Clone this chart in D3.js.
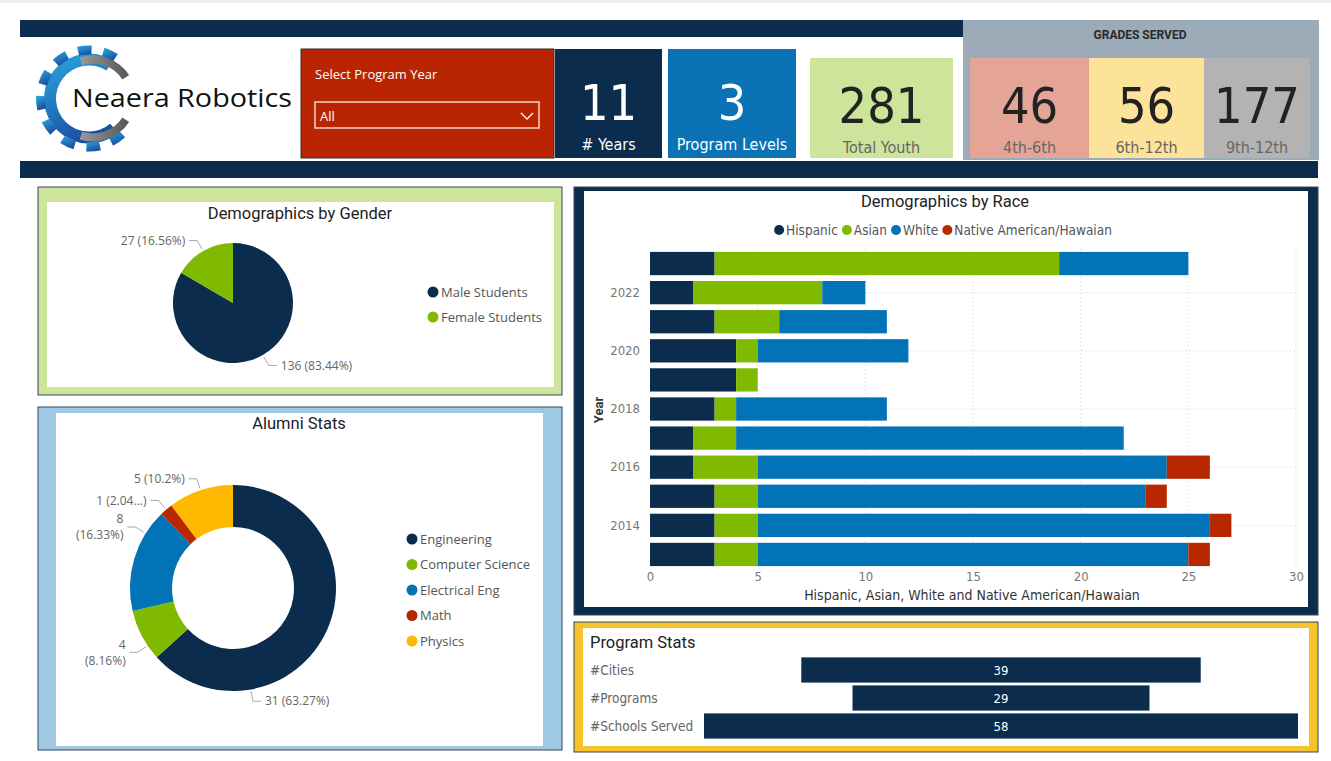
<!DOCTYPE html>
<html>
<head>
<meta charset="utf-8">
<script src="https://cdn.jsdelivr.net/npm/d3@7"></script>
<style>
  body { margin: 0; background: #fff; }
  svg { display: block; }
</style>
</head>
<body>
<svg width="1331" height="761"></svg>
<script>
// ---- data ----
var kpiYears = 11;
var kpiLevels = 3;
var kpiYouth = 281;
var gradeNames = ["4th-6th", "6th-12th", "9th-12th"];
var gradeValues = [46, 56, 177];

var genderNames = ["Male Students", "Female Students"];
var genderValues = [136, 27];
var genderLabels = [["136 (83.44%)"], ["27 (16.56%)"]];

var alumniNames = ["Engineering", "Computer Science", "Electrical Eng", "Math", "Physics"];
var alumniValues = [31, 4, 8, 1, 5];
var alumniLabels = [["31 (63.27%)"], ["4", "(8.16%)"], ["8", "(16.33%)"], ["1 (2.04...)"], ["5 (10.2%)"]];

var raceKeys = ["Hispanic", "Asian", "White", "Native American/Hawaian"];
var raceYears = [2023, 2022, 2021, 2020, 2019, 2018, 2017, 2016, 2015, 2014, 2013];
var hispanic = [3, 2, 3, 4, 4, 3, 2, 2, 3, 3, 3];
var asian = [16, 6, 3, 1, 1, 1, 2, 3, 2, 2, 2];
var white = [6, 2, 5, 7, 0, 7, 18, 19, 18, 21, 20];
var nativeAm = [0, 0, 0, 0, 0, 0, 0, 2, 1, 1, 1];
var yearTicks = [2022, 2020, 2018, 2016, 2014];
var xTicks = [0, 5, 10, 15, 20, 25, 30];

var statNames = ["#Cities", "#Programs", "#Schools Served"];
var statValues = [39, 29, 58];

// ---- look ----
var navy = "#0b2c4d", green = "#7fba00", blue = "#0273b6", red = "#b72800", gold = "#ffb900";
var cond = "'DejaVu Sans Condensed',sans-serif";
var segoe = "'Segoe UI','Open Sans',sans-serif";
var din = "Roboto,sans-serif";

var svg = d3.select("svg");
var rad = Math.PI / 180;

function box(x, y, w, h, fill, stroke) {
  return svg.append("rect").attr("x", x).attr("y", y).attr("width", w).attr("height", h)
    .attr("fill", fill).attr("stroke", stroke || "none");
}
function label(x, y, txt, size, fill, font, anchor, weight) {
  return svg.append("text").attr("x", x).attr("y", y).text(txt)
    .attr("font-size", size).attr("fill", fill).attr("font-family", font)
    .attr("text-anchor", anchor || "start").attr("font-weight", weight || 400);
}

box(0, 0, 1331, 761, "#fff");
box(0, 0, 1331, 3, "#efefef");

// header bands
box(20, 20, 943, 17, navy);
box(963, 20, 356, 140, "#9babb8");
box(20, 161, 1298, 17, navy);

// logo: blue gear open on the right, grey crescent inside
var defs = svg.append("defs");
var grad = defs.append("linearGradient").attr("id", "gearGrad")
  .attr("x1", 0).attr("y1", 0).attr("x2", 0.4).attr("y2", 1);
grad.append("stop").attr("offset", "0%").attr("stop-color", "#29abe2");
grad.append("stop").attr("offset", "100%").attr("stop-color", "#1c4fa1");
var ggrad = defs.append("linearGradient").attr("id", "greyGrad")
  .attr("x1", 0).attr("y1", 0).attr("x2", 1).attr("y2", 0);
ggrad.append("stop").attr("offset", "0%").attr("stop-color", "#9a9a9a");
ggrad.append("stop").attr("offset", "100%").attr("stop-color", "#555");

var gear = svg.append("g").attr("transform", "translate(89,98.5)");
var arc = d3.arc();
gear.append("path").attr("fill", "url(#gearGrad)")
  .attr("d", arc({ innerRadius: 33, outerRadius: 45, startAngle: 140 * rad, endAngle: 392 * rad }));
d3.range(145, 390, 30).forEach(function (a) {
  gear.append("path").attr("fill", "url(#gearGrad)")
    .attr("d", arc({ innerRadius: 44, outerRadius: 53, startAngle: (a - 8) * rad, endAngle: (a + 8) * rad }));
});
var cgrey = svg.append("g").attr("transform", "translate(93,98.5)");
cgrey.append("path").attr("fill", "url(#greyGrad)")
  .attr("d", arc({ innerRadius: 35, outerRadius: 43, startAngle: -18 * rad, endAngle: 57 * rad }));
cgrey.append("path").attr("fill", "url(#greyGrad)")
  .attr("d", arc({ innerRadius: 35, outerRadius: 43, startAngle: 123 * rad, endAngle: 198 * rad }));
label(72, 107, "Neaera Robotics", 26, "#111", segoe)
  .attr("textLength", 220).attr("lengthAdjust", "spacingAndGlyphs");

// program year slicer
box(301, 49, 253, 109, "#b92500", "#3a2a2a");
label(315, 79, "Select Program Year", 13, "#fff", segoe);
box(315, 102, 224, 26, "none", "#f3d2ca").attr("stroke-width", 1.5);
label(320, 121, "All", 13, "#fff", segoe);
svg.append("polyline").attr("points", "521,113 527,119 533,113")
  .attr("fill", "none").attr("stroke", "#fff").attr("stroke-width", 1.3);

// kpi cards
function kpi(x, y, w, h, fill, value, name, vcol, ncol, vBase, nBase) {
  box(x, y, w, h, fill);
  label(x + w / 2, vBase, value, 50, vcol, cond, "middle");
  label(x + w / 2, nBase, name, 16, ncol, cond, "middle");
}
kpi(555, 49, 107, 109, navy, kpiYears, "# Years", "#fff", "#fff", 120, 150);
kpi(668, 49, 128, 109, "#0a72b5", kpiLevels, "Program Levels", "#fff", "#fff", 120, 150);
kpi(810, 58, 143, 100, "#cde49b", kpiYouth, "Total Youth", "#222", "#666", 123, 153);

label(1140, 39, "GRADES SERVED", 12, "#2a2a2a", din, "middle", 700);
var gradeX = [970, 1089, 1204, 1310];
var gradeFill = ["#e5a596", "#fde29a", "#b3b3b3"];
gradeNames.forEach(function (g, i) {
  kpi(gradeX[i], 58, gradeX[i + 1] - gradeX[i], 100, gradeFill[i], gradeValues[i], g, "#222", "#666", 123, 153);
});

// ---- panels ----
function panel(x, y, w, h, fill, ix, iy, iw, ih) {
  box(x, y, w, h, fill, "#34495d");
  box(ix, iy, iw, ih, "#fff");
}
panel(38, 187, 524, 208, "#cde49b", 47, 202, 507, 185);
panel(38, 407, 524, 343, "#9fc9e3", 56, 413, 487, 333);
panel(574, 187, 744, 428, navy, 584, 191, 724, 416);
panel(574, 622, 744, 130, "#f6c32c", 583, 628, 726, 118);

// ---- pies ----
function drawPie(cx, cy, inner, outer, names, values, colors, texts, angleFix, legX, legY, legStep) {
  var g = svg.append("g").attr("transform", "translate(" + cx + "," + cy + ")");
  var arcs = d3.pie().sort(null).value(function (d) { return d; })(values);
  var a = d3.arc().innerRadius(inner).outerRadius(outer);
  g.selectAll("path.slice").data(arcs).enter().append("path")
    .attr("d", a).attr("fill", function (d, i) { return colors[i]; });

  arcs.forEach(function (d, i) {
    var ang = angleFix[names[i]] != null ? angleFix[names[i]] * rad : (d.startAngle + d.endAngle) / 2;
    var sx = Math.sin(ang), sy = -Math.cos(ang);
    var side = sx < 0 ? -1 : 1;
    var p1 = [sx * (outer + 2), sy * (outer + 2)];
    var p2 = [sx * (outer + 12), sy * (outer + 12)];
    var p3 = [p2[0] + side * 8, p2[1]];
    g.append("polyline").attr("points", [p1, p2, p3].join(" "))
      .attr("fill", "none").attr("stroke", "#a6a6a6").attr("stroke-width", 1);
    var lines = texts[i];
    lines.forEach(function (t, k) {
      g.append("text").attr("x", p3[0] + side * 4)
        .attr("y", p2[1] + (k - (lines.length - 1) / 2) * 16)
        .attr("dy", "0.35em").text(t)
        .attr("text-anchor", side < 0 ? "end" : "start")
        .attr("font-size", 12).attr("fill", "#666").attr("font-family", segoe);
    });
  });

  names.forEach(function (n, i) {
    svg.append("circle").attr("cx", legX).attr("cy", legY + i * legStep).attr("r", 5.5).attr("fill", colors[i]);
    label(legX + 8, legY + i * legStep + 4.5, n, 13, "#555", segoe);
  });
}

label(300, 219, "Demographics by Gender", 16.5, "#222", din, "middle");
drawPie(233, 303, 0, 60, genderNames, genderValues, [navy, green], genderLabels, {}, 433, 292, 25);

label(299, 429, "Alumni Stats", 16.5, "#222", din, "middle");
drawPie(233, 588, 61, 103, alumniNames, alumniValues, [navy, green, blue, red, gold], alumniLabels,
  { "Engineering": 170, "Computer Science": 236, "Electrical Eng": 302 }, 412, 539, 25.5);

// ---- race chart ----
var raceColors = [navy, green, blue, red];
var raceRows = raceYears.map(function (yr, i) {
  var r = { year: yr };
  r[raceKeys[0]] = hispanic[i];
  r[raceKeys[1]] = asian[i];
  r[raceKeys[2]] = white[i];
  r[raceKeys[3]] = nativeAm[i];
  return r;
});
var xscale = d3.scaleLinear().domain([0, 30]).range([650, 1296]);
var yscale = d3.scaleBand().domain(raceYears).range([249, 569]).paddingInner(0.2).paddingOuter(0.1);

label(945, 207, "Demographics by Race", 16.5, "#222", din, "middle");

// legend, laid out left to right and centred
var leg = svg.append("g");
var lx = 0;
raceKeys.forEach(function (k, i) {
  leg.append("circle").attr("cx", lx + 5).attr("cy", 230).attr("r", 5).attr("fill", raceColors[i]);
  var t = leg.append("text").attr("x", lx + 12).attr("y", 235).text(k)
    .attr("font-size", 13.5).attr("fill", "#555").attr("font-family", cond);
  lx += 12 + t.node().getComputedTextLength() + 4;
});
leg.attr("transform", "translate(" + (945 - lx / 2) + ",0)");

// grid
var grid = svg.append("g").attr("stroke", "#cfcfcf").attr("stroke-dasharray", "1,3");
xTicks.slice(1).forEach(function (t) {
  grid.append("line").attr("x1", xscale(t)).attr("x2", xscale(t)).attr("y1", 249).attr("y2", 569);
});
yearTicks.forEach(function (yr) {
  var yy = yscale(yr) + yscale.bandwidth() / 2;
  grid.append("line").attr("x1", 650).attr("x2", 1296).attr("y1", yy).attr("y2", yy);
});

var stacked = d3.stack().keys(raceKeys)(raceRows);
svg.append("g").selectAll("g").data(stacked).enter().append("g")
  .attr("fill", function (d, i) { return raceColors[i]; })
  .selectAll("rect").data(function (d) { return d; }).enter().append("rect")
  .attr("x", function (d) { return xscale(d[0]); })
  .attr("y", function (d) { return yscale(d.data.year); })
  .attr("width", function (d) { return xscale(d[1]) - xscale(d[0]); })
  .attr("height", yscale.bandwidth());

var xAxis = svg.append("g").attr("transform", "translate(0,569)")
  .call(d3.axisBottom(xscale).tickValues(xTicks).tickSize(0).tickPadding(3));
var yAxis = svg.append("g").attr("transform", "translate(650,0)")
  .call(d3.axisLeft(yscale).tickValues(yearTicks).tickSize(0).tickPadding(10));
[xAxis, yAxis].forEach(function (ax) {
  ax.select(".domain").remove();
  ax.selectAll("text").attr("fill", "#777").attr("font-size", 13).attr("font-family", cond);
});

label(972, 600, "Hispanic, Asian, White and Native American/Hawaian", 14, "#333", cond, "middle");
svg.append("text").attr("transform", "translate(603,410) rotate(-90)").text("Year")
  .attr("text-anchor", "middle").attr("font-size", 13).attr("font-weight", 700)
  .attr("fill", "#333").attr("font-family", din);

// ---- program stats funnel ----
label(590, 648, "Program Stats", 16.5, "#222", din, "start");
var sy = d3.scaleBand().domain(statNames).range([656, 740]).paddingInner(0.1).paddingOuter(0.05);
var sw = d3.scaleLinear().domain([0, 58]).range([0, 594]);
statNames.forEach(function (n, i) {
  var yy = sy(n);
  label(590, yy + sy.bandwidth() / 2 + 5, n, 13.5, "#666", cond);
  box(1001 - sw(statValues[i]) / 2, yy, sw(statValues[i]), sy.bandwidth(), navy);
  label(1001, yy + sy.bandwidth() / 2 + 5, statValues[i], 13, "#fff", cond, "middle");
});
</script>
</body>
</html>
